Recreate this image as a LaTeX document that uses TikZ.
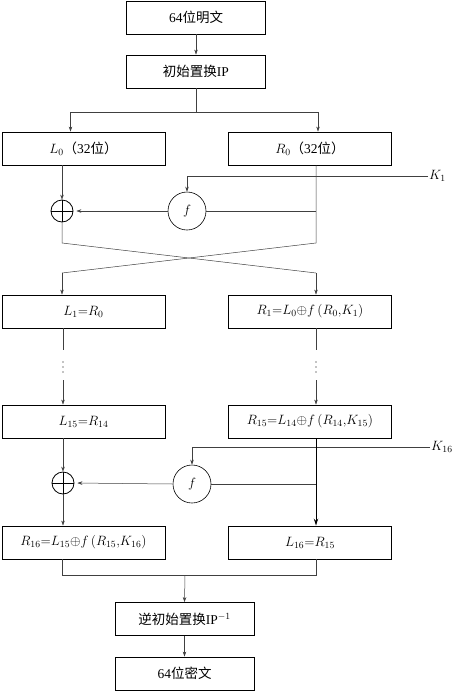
\RequirePackage{fix-cm}
\documentclass[tikz,border=0pt]{standalone}
\usepackage{fontspec}
\setmainfont{Liberation Serif}
\newfontfamily\cjk{Noto Sans CJK SC}
\usetikzlibrary{arrows.meta, positioning, calc}

\begin{document}
\begin{tikzpicture}[x=1pt, y=-1pt,
  box/.style={draw, line width=0.9pt, rectangle, minimum width=163pt, minimum height=33pt, inner sep=0pt, font=\fontsize{13.5}{15}\selectfont},
  midbox/.style={box, minimum width=139pt},
  xorop/.style={draw, circle, line width=0.8pt, minimum size=22pt, inner sep=0pt},
  fop/.style={draw, circle, line width=0.6pt, minimum size=38pt, inner sep=0pt, font=\fontsize{13.5}{15}\selectfont},
  conn/.style={draw=black!75, line width=0.5pt},
  arr/.style={conn, -{Stealth[length=5pt, width=3.5pt]}},
  thickarr/.style={draw=black, line width=1pt, -{Stealth[length=7pt, width=4.5pt]}},
  keylab/.style={anchor=west, inner sep=1pt, font=\fontsize{13.5}{15}\selectfont}]
  \useasboundingbox (0,0) rectangle (454,691);

  % Columns
  \coordinate (lcol) at (62,0);
  \coordinate (rcol) at (316,0);

  % Input and initial permutation
  \node[midbox] (plain) at (196,17.5) {64{\cjk 位明文}};
  \node[midbox] (ip) at (196,71.5) {{\cjk 初始置换}IP};
  \node[box] (L0) at (83.5,148.5) {$L_0${\cjk （}32{\cjk 位）}};
  \node[box] (R0) at (310,148.5) {$R_0${\cjk （}32{\cjk 位）}};

  \coordinate (split) at ($(ip.south)+(0,24)$);
  \draw[arr] (plain) -- (ip);
  \draw[conn] (ip.south) -- (split);
  \draw[arr] (split) -| ([xshift=-13pt]L0.north);
  \draw[arr] (split) -| ([xshift=8pt]R0.north);

  % Round 1
  \node[xorop] (xor1) at (62,211) {};
  \draw[line width=0.8pt] (xor1.north) -- (xor1.south) (xor1.west) -- (xor1.east);
  \node[fop] (f1) at (187,211) {$f$};
  \node[keylab] (k1) at (428,176) {$K_1$};

  \node[box] (L1) at (83.5,311.5) {$L_1{=}R_0$};
  \node[box] (R1) at (310,311.5) {$R_1{=}L_0{\oplus}f\,(R_0{,}K_1)$};

  \coordinate (x1a) at (62,243);
  \coordinate (x1b) at (316,243);
  \coordinate (x1c) at (62,273);
  \coordinate (x1d) at (316,273);

  \draw[arr] (L0.south -| lcol) -- (xor1.north);
  \draw[arr] (k1.west) -| (f1.north);
  \draw[arr, shorten >=3pt] (f1.west) -- (xor1.east);
  \draw[conn] (f1.east) -- (f1.east -| rcol);
  \draw[conn] (R0.south -| rcol) -- (x1b) -- (x1c);
  \draw[arr] (x1c) -- (L1.north -| lcol);
  \draw[conn] (xor1.south) -- (x1a) -- (x1d);
  \draw[arr] (x1d) -- (R1.north -| rcol);

  % Rounds 2 to 15
  \coordinate (dotsL) at (63,367);
  \coordinate (dotsR) at (316,367);
  \foreach \d in {-5,0,5} {
    \fill ($(dotsL)+(0,\d)$) circle (0.6pt);
    \fill ($(dotsR)+(0,\d)$) circle (0.6pt);
  }
  \node[box] (L15) at (83.5,421.5) {$L_{15}{=}R_{14}$};
  \node[box] (R15) at (310,421.5) {$R_{15}{=}L_{14}{\oplus}f\,(R_{14}{,}K_{15})$};

  \draw[conn] (L1.south -| dotsL) -- ($(dotsL)+(0,-17)$);
  \draw[arr] ($(dotsL)+(0,13)$) -- (L15.north -| dotsL);
  \draw[conn] (R1.south -| dotsR) -- ($(dotsR)+(0,-17)$);
  \draw[arr] ($(dotsR)+(0,13)$) -- (R15.north -| dotsR);

  % Round 16
  \node[xorop] (xor2) at (63,483) {};
  \draw[line width=0.8pt] (xor2.north) -- (xor2.south) (xor2.west) -- (xor2.east);
  \node[fop] (f2) at (192,484) {$f$};
  \node[keylab] (k16) at (430,447) {$K_{16}$};

  \node[box] (R16) at (83.5,542.5) {$R_{16}{=}L_{15}{\oplus}f\,(R_{15}{,}K_{16})$};
  \node[box] (L16) at (310,542.5) {$L_{16}{=}R_{15}$};

  \draw[arr] (L15.south -| xor2) -- (xor2.north);
  \draw[arr] (k16.west) -| (f2.north);
  \draw[arr, shorten >=3pt] (f2.west) -- (xor2.east);
  \draw[conn] (f2.east) -- (f2.east -| rcol);
  \draw[thickarr] (R15.south -| rcol) -- (L16.north -| rcol);
  \draw[arr] (xor2.south) -- (R16.north -| xor2);

  % Output
  \node[midbox] (inv) at (184.5,619) {{\cjk 逆初始置换}IP$^{-1}$};
  \node[midbox] (cipher) at (184.5,673.5) {64{\cjk 位密文}};

  \coordinate (merge) at (185,575);
  \draw[conn] (R16.south -| lcol) -- (lcol |- merge) -- (rcol |- merge) -- (L16.south -| rcol);
  \draw[arr] (merge) -- (inv.north);
  \draw[arr] (inv) -- (cipher);
\end{tikzpicture}
\end{document}
